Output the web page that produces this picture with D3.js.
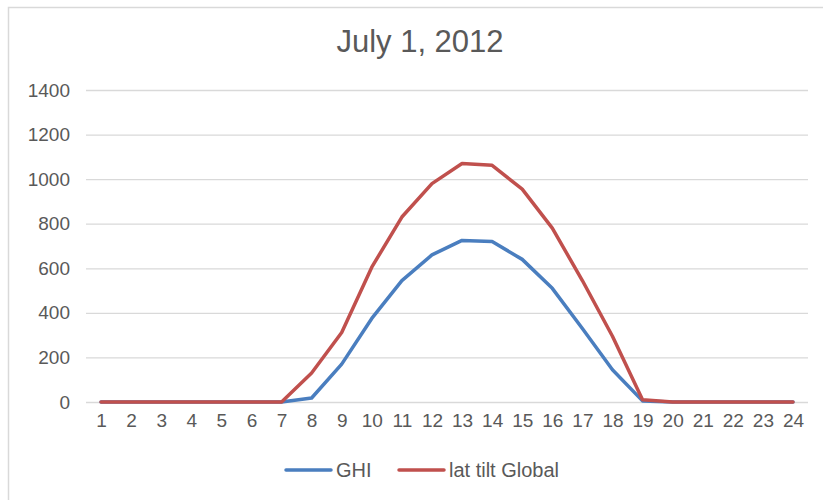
<!DOCTYPE html>
<html><head><meta charset="utf-8">
<script src="https://cdn.jsdelivr.net/npm/d3@7"></script>
<style>body{margin:0;background:#fff;} text{font-family:"Liberation Sans",Arial,sans-serif;fill:#595959;}</style>
</head><body>
<svg id="c" width="823" height="500"></svg>
<script>
const hours = ["1","2","3","4","5","6","7","8","9","10","11","12","13","14","15","16","17","18","19","20","21","22","23","24"];
const ghi = [0,0,0,0,0,0,0,18,170,375,545,660,725,720,640,510,330,145,5,0,0,0,0,0];
const latTilt = [0,0,0,0,0,0,0,130,312,605,830,980,1070,1062,955,780,545,295,10,0,0,0,0,0];
const yTicks = [0,200,400,600,800,1000,1200,1400];
const seriesNames = ["GHI","lat tilt Global"];
const colors = ["#4a7ebf","#c0504d"];
const title = "July 1, 2012";

const svg = d3.select("#c");
svg.append("rect").attr("x",8.5).attr("y",7.5).attr("width",830).attr("height",510)
  .attr("fill","#fff").attr("stroke","#d9d9d9").attr("stroke-width",1.5);

const L=86,R=808,T=90,B=402;
const x = d3.scalePoint().domain(hours).range([L,R]).padding(0.5);
const y = d3.scaleLinear().domain([0,1400]).range([B,T]);

svg.append("text").attr("x",420).attr("y",52).attr("text-anchor","middle")
  .style("font-size","31px").text(title);

const gy = svg.append("g").attr("transform",`translate(${L},0)`)
  .call(d3.axisLeft(y).tickValues(yTicks).tickFormat(d3.format("d")).tickSize(-(R-L)).tickPadding(16));
gy.select(".domain").remove();
gy.selectAll(".tick line").attr("stroke","#d9d9d9").attr("stroke-width",1.3);
gy.selectAll(".tick text").style("font-size","19px").attr("fill","#595959");

const gx = svg.append("g").attr("transform",`translate(0,${B})`)
  .call(d3.axisBottom(x).tickSize(0).tickPadding(12));
gx.select(".domain").remove();
gx.selectAll(".tick text").style("font-size","19px").attr("fill","#595959");

const line = d3.line().x((d,i)=>x(hours[i])).y(d=>y(d));
[ghi,latTilt].forEach((s,k)=>{
  svg.append("path").datum(s).attr("d",line).attr("fill","none")
    .attr("stroke",colors[k]).attr("stroke-width",3.5).attr("stroke-linejoin","round").attr("stroke-linecap","round");
});

const lg = svg.append("g");
const legX = [286,399];
seriesNames.forEach((n,k)=>{
  lg.append("line").attr("x1",legX[k]).attr("x2",legX[k]+45).attr("y1",470).attr("y2",470)
    .attr("stroke",colors[k]).attr("stroke-width",3.5).attr("stroke-linecap","round");
  lg.append("text").attr("x",legX[k]+50).attr("y",477).style("font-size","20px").text(n);
});
</script>
</body></html>
